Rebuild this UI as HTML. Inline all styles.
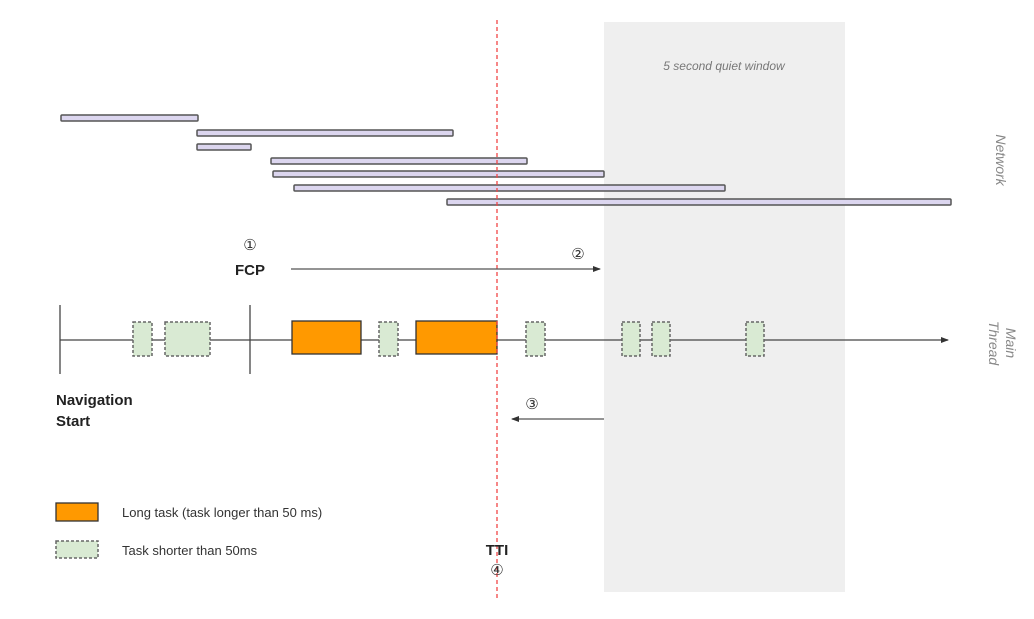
<!DOCTYPE html>
<html><head><meta charset="utf-8"><style>
html,body{margin:0;padding:0;background:#fff;}
svg{display:block;}
text{font-family:"Liberation Sans","DejaVu Sans",sans-serif;}
</style></head><body>
<svg width="1034" height="619" viewBox="0 0 1034 619" xmlns="http://www.w3.org/2000/svg">
<defs>
<marker id="ah" markerWidth="8" markerHeight="6" refX="7" refY="3" orient="auto" markerUnits="userSpaceOnUse">
<path d="M0,0 L8,3 L0,6 z" fill="#333"/></marker>
</defs>
<rect x="604" y="22" width="241" height="570" fill="#efefef"/>
<text x="724" y="70" font-size="12" font-style="italic" fill="#777" text-anchor="middle">5 second quiet window</text>
<g fill="#dcd6ef" stroke="#555" stroke-width="1.5">
<rect x="61" y="115" width="137" height="6" rx="1"/>
<rect x="197" y="130" width="256" height="6" rx="1"/>
<rect x="197" y="144" width="54" height="6" rx="1"/>
<rect x="271" y="158" width="256" height="6" rx="1"/>
<rect x="273" y="171" width="331" height="6" rx="1"/>
<rect x="294" y="185" width="431" height="6" rx="1"/>
<rect x="447" y="199" width="504" height="6" rx="1"/>
</g>
<text transform="translate(996,160) rotate(90)" font-size="14" font-style="italic" fill="#888" text-anchor="middle">Network</text>
<text transform="translate(1006,343) rotate(90)" font-size="14" font-style="italic" fill="#888" text-anchor="middle"><tspan x="0" y="0">Main</tspan><tspan x="0" y="17">Thread</tspan></text>
<line x1="60" y1="340" x2="948" y2="340" stroke="#444" stroke-width="1.3" marker-end="url(#ah)"/>
<line x1="60" y1="305" x2="60" y2="374" stroke="#444" stroke-width="1.3"/>
<line x1="250" y1="305" x2="250" y2="374" stroke="#444" stroke-width="1.3"/>
<g fill="#d9ead3" stroke="#666" stroke-width="1.5" stroke-dasharray="3,2">
<rect x="133" y="322" width="19" height="34"/>
<rect x="165" y="322" width="45" height="34"/>
<rect x="379" y="322" width="19" height="34"/>
<rect x="526" y="322" width="19" height="34"/>
<rect x="622" y="322" width="18" height="34"/>
<rect x="652" y="322" width="18" height="34"/>
<rect x="746" y="322" width="18" height="34"/>
</g>
<g fill="#ff9900" stroke="#333" stroke-width="1.3">
<rect x="292" y="321" width="69" height="33"/>
<rect x="416" y="321" width="81" height="33"/>
</g>
<line x1="497" y1="20" x2="497" y2="600" stroke="#f04646" stroke-width="1.3" stroke-dasharray="4,3"/>
<text x="250" y="250" font-size="15" fill="#333" text-anchor="middle">①</text>
<text x="250" y="275" font-size="15" font-weight="bold" fill="#222" text-anchor="middle">FCP</text>
<line x1="291" y1="269" x2="600" y2="269" stroke="#555" stroke-width="1.2" marker-end="url(#ah)"/>
<text x="578" y="259" font-size="15" fill="#333" text-anchor="middle">②</text>
<text x="532" y="409" font-size="15" fill="#333" text-anchor="middle">③</text>
<line x1="604" y1="419" x2="512" y2="419" stroke="#555" stroke-width="1.2" marker-end="url(#ah)"/>
<text x="56" y="405" font-size="15" font-weight="bold" fill="#222">Navigation</text>
<text x="56" y="426" font-size="15" font-weight="bold" fill="#222">Start</text>
<rect x="56" y="503" width="42" height="18" fill="#ff9900" stroke="#333" stroke-width="1.3"/>
<text x="122" y="517" font-size="13" fill="#333">Long task (task longer than 50 ms)</text>
<rect x="56" y="541" width="42" height="17" fill="#d9ead3" stroke="#666" stroke-width="1.5" stroke-dasharray="3,2"/>
<text x="122" y="555" font-size="13" fill="#333">Task shorter than 50ms</text>
<text x="497" y="555" font-size="15" font-weight="bold" fill="#222" text-anchor="middle">TTI</text>
<text x="497" y="575" font-size="15" fill="#333" text-anchor="middle">④</text>
</svg>
</body></html>
